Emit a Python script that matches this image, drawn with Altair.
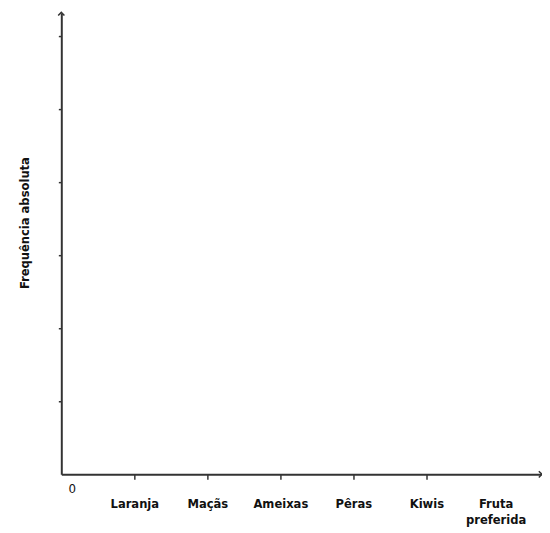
import altair as alt
import pandas as pd

# Categories on the horizontal axis
categorias = ["Laranja", "Maçãs", "Ameixas", "Pêras", "Kiwis"]
posicoes = [1, 2, 3, 4, 5]
# y tick marks (no labels)
y_ticks = [1, 2, 3, 4, 5, 6]
x_max = 6.57
y_max = 6.31

titulo_y = "Frequência absoluta"
titulo_x = ["Fruta", "preferida"]

FONT = "Liberation Sans Narrow, DejaVu Sans Condensed, Liberation Sans, sans-serif"
INK = "#333333"

label_expr = "[" + ",".join("'" + c + "'" for c in categorias) + "][datum.value-1]"

origin = pd.DataFrame({"x": [0], "y": [0]})

xscale = alt.Scale(domain=[0, x_max], nice=False, zero=True)
yscale = alt.Scale(domain=[0, y_max], nice=False, zero=True)

frame = alt.Chart(origin).mark_point(opacity=0).encode(
    x=alt.X("x:Q", scale=xscale,
            axis=alt.Axis(values=posicoes, labelExpr=label_expr, title=titulo_x,
                          tickSize=5, labelPadding=19, labelBaseline="top",
                          labelFont=FONT, labelFontWeight="bold", labelFontSize=13,
                          labelColor="#111", labelFlush=False, labelOverlap=False,
                          titleFont=FONT, titleFontWeight="bold", titleFontSize=13,
                          titleColor="#111", titleX=440, titleY=24,
                          titleBaseline="top", titleAlign="center", titleLineHeight=16)),
    y=alt.Y("y:Q", scale=yscale,
            axis=alt.Axis(values=y_ticks, labels=False, title=titulo_y,
                          tickSize=3, titleFont=FONT, titleFontWeight="bold",
                          titleFontSize=13, titleColor="#111", titleX=-37, titleY=212,
                          titleAngle=-90, titleAlign="center", titleBaseline="middle")),
)

zero_label = alt.Chart(origin).mark_text(
    text="0", dx=11, dy=15, fontSize=12, font="DejaVu Sans", color="#111"
).encode(x=alt.X("x:Q", scale=xscale), y=alt.Y("y:Q", scale=yscale))

arrow_up = alt.Chart(pd.DataFrame({"x": [0], "y": [y_max]})).mark_point(
    shape="M -1 0.7 L 0 -0.3 L 1 0.7", filled=False, color=INK, strokeWidth=1.5,
    size=40, opacity=1
).encode(x=alt.X("x:Q", scale=xscale), y=alt.Y("y:Q", scale=yscale))

arrow_right = alt.Chart(pd.DataFrame({"x": [x_max], "y": [0]})).mark_point(
    shape="M -0.7 -1 L 0.3 0 L -0.7 1", filled=False, color=INK, strokeWidth=1.5,
    size=40, opacity=1
).encode(x=alt.X("x:Q", scale=xscale), y=alt.Y("y:Q", scale=yscale))

chart = alt.layer(frame, zero_label, arrow_up, arrow_right).properties(
    width=486, height=467,
    autosize=alt.AutoSizeParams(type="none"),
    padding={"left": 54, "top": 2, "right": 1, "bottom": 54},
    background="white",
).configure_axis(
    grid=False, domainColor=INK, domainWidth=2, tickColor=INK, tickWidth=1.5
).configure_view(stroke=None)

chart.save("out.html", embed_options={"renderer": "svg", "actions": False})
